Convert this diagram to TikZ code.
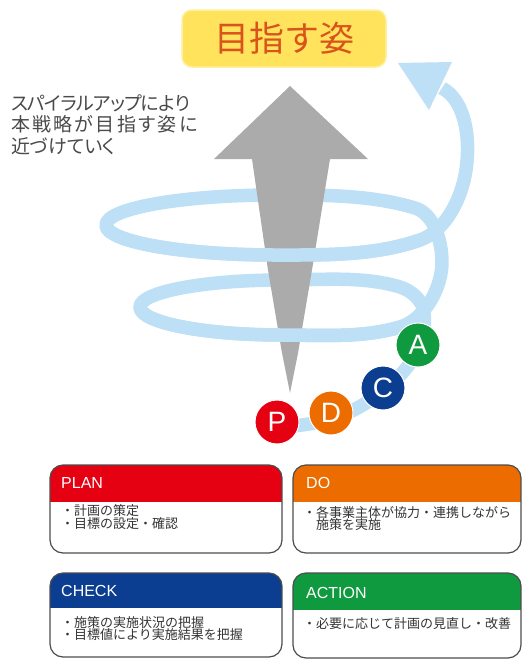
\documentclass[tikz,border=0pt]{standalone}
\usepackage{fontspec}
\newfontfamily\jp{Noto Sans CJK JP}
\newfontfamily\jpp[RawFeature=+palt]{Noto Sans CJK JP}
\newfontfamily\arialf{Liberation Sans}
\definecolor{bandblue}{HTML}{BEE0F6}
\definecolor{arrowgray}{HTML}{ABABAB}
\definecolor{pred}{HTML}{E50012}
\definecolor{porange}{HTML}{EC6C00}
\definecolor{pblue}{HTML}{0B3D91}
\definecolor{pgreen}{HTML}{109A3F}
\definecolor{goalfill}{HTML}{FFE35C}
\definecolor{goaldraw}{HTML}{FFEFA0}
\definecolor{goaltext}{HTML}{D9541C}
\definecolor{textgray}{HTML}{4A4A4A}
\definecolor{bodytext}{HTML}{333333}
\definecolor{boxedge}{HTML}{4D4D4D}
\tikzset{
  band/.style={draw=bandblue, line width=13.5pt, line cap=butt, line join=round},
  pdca/.style={circle, minimum size=44pt, inner sep=0pt, text=white, draw=white, line width=1pt,
    font=\arialf\fontsize{28}{28}\selectfont},
  hdr/.style={anchor=west, inner sep=0pt, text=white, font=\arialf\fontsize{16}{16}\selectfont},
  bodytxt/.style={anchor=base west, inner sep=0pt, text=bodytext, font=\jp\fontsize{13}{13}\selectfont},
  lefttxt/.style={anchor=base west, inner sep=0pt, text=textgray, font=\jpp\fontsize{19}{19}\selectfont},
  boxline/.style={draw=boxedge, line width=1.2pt, rounded corners=13pt}
}
\begin{document}
\begin{tikzpicture}[x=1pt,y=-1pt]
\useasboundingbox (0,0) rectangle (523,665);
\fill[white] (0,0) rectangle (523,665);

% title
\node[draw=goaldraw, fill=goalfill, line width=1.5pt, rounded corners=10pt,
  minimum width=204pt, minimum height=57pt, inner sep=0pt,
  text=goaltext, font=\jp\fontsize{35}{35}\selectfont] (goal) at (284,38.5) {目指す姿};

% left text
\node[lefttxt] (l1) at (11,110) {\addfontfeature{LetterSpace=-4}スパイラルアップにより};
\node[lefttxt] (l2) at (11,131.5) {\addfontfeature{LetterSpace=12}本戦略が目指す姿に};
\node[lefttxt] (l3) at (11,153) {近づけていく};

% spiral band (full)
\draw[band] (268,427) .. controls (289,427) and (310.9,425) .. (331,419)
 .. controls (349.9,413.3) and (367.6,403.3) .. (383,391)
 .. controls (397.1,379.8) and (410,366.1) .. (418,350)
 .. controls (423.7,338.5) and (425.3,324.7) .. (424,312)
 .. controls (422.8,300.5) and (411.1,290.3) .. (400,287)
 .. controls (362.3,275.7) and (321.4,280) .. (282,280)
 .. controls (203.6,280) and (140,292.1) .. (140,307)
 .. controls (140,322.5) and (203.6,335) .. (282,335)
 .. controls (321.4,335) and (362.3,338.3) .. (400,327)
 .. controls (424.7,319.6) and (442,287.8) .. (442,262)
 .. controls (442,241.9) and (434.3,213.8) .. (415,208)
 .. controls (370.1,194.5) and (321.9,195) .. (275,195)
 .. controls (181.7,195) and (106,208.4) .. (106,225)
 .. controls (106,241.6) and (181.7,255) .. (275,255)
 .. controls (323.6,255) and (374.1,256) .. (420,240)
 .. controls (446.1,230.9) and (462,197.4) .. (466,170)
 .. controls (470.2,141.9) and (467,101.6) .. (442,88);
\fill[bandblue] (398,63) -- (452,62) -- (429,110) -- cycle;

% gray arrow
\fill[arrowgray] (290,86) -- (368,159) -- (330,159) -- (312,270) -- (298,353) -- (290,393)
  -- (282,353) -- (268,270) -- (252,159) -- (214,159) -- cycle;

% front parts of the rings over the arrow
\draw[band] (140,307) .. controls (140,322.5) and (203.6,335) .. (282,335)
 .. controls (321.4,335) and (362.3,338.3) .. (400,327);
\draw[band] (106,225) .. controls (106,241.6) and (181.7,255) .. (275,255)
 .. controls (323.6,255) and (374.1,256) .. (420,240);

% PDCA circles
\node[pdca, fill=pred] (p) at (277,422) {P};
\node[pdca, fill=porange] (d) at (331,413) {D};
\node[pdca, fill=pblue] (c) at (383,388) {C};
\node[pdca, fill=pgreen] (a) at (418,345) {A};

% PLAN box
\begin{scope}
\clip[rounded corners=13pt] (50,465) rectangle (282,553);
\fill[white] (50,465) rectangle (282,553);
\fill[pred] (50,465) rectangle (282,502);
\end{scope}
\draw[boxline] (50,465) rectangle (282,553);
\node[hdr] (planh) at (61,483) {PLAN};
\node[bodytxt] (plan1) at (61,515.6) {・計画の策定};
\node[bodytxt] (plan2) at (61,528.6) {・目標の設定・確認};

% DO box
\begin{scope}
\clip[rounded corners=13pt] (293,465) rectangle (521,553);
\fill[white] (293,465) rectangle (521,553);
\fill[porange] (293,465) rectangle (521,502);
\end{scope}
\draw[boxline] (293,465) rectangle (521,553);
\node[hdr] (doh) at (306,483) {DO};
\node[bodytxt] (do1) at (303,517) {・各事業主体が協力・連携しながら};
\node[bodytxt] (do2) at (316,529.5) {施策を実施};

% CHECK box
\begin{scope}
\clip[rounded corners=13pt] (50,573) rectangle (282,657);
\fill[white] (50,573) rectangle (282,657);
\fill[pblue] (50,573) rectangle (282,608);
\end{scope}
\draw[boxline] (50,573) rectangle (282,657);
\node[hdr] (checkh) at (61,591) {CHECK};
\node[bodytxt] (check1) at (61,627) {・施策の実施状況の把握};
\node[bodytxt] (check2) at (61,639.5) {・目標値により実施結果を把握};

% ACTION box
\begin{scope}
\clip[rounded corners=13pt] (293,573) rectangle (521,658);
\fill[white] (293,573) rectangle (521,658);
\fill[pgreen] (293,573) rectangle (521,610);
\end{scope}
\draw[boxline] (293,573) rectangle (521,658);
\node[hdr] (actionh) at (306,593) {ACTION};
\node[bodytxt] (action1) at (303,628) {・必要に応じて計画の見直し・改善};
\end{tikzpicture}
\end{document}
